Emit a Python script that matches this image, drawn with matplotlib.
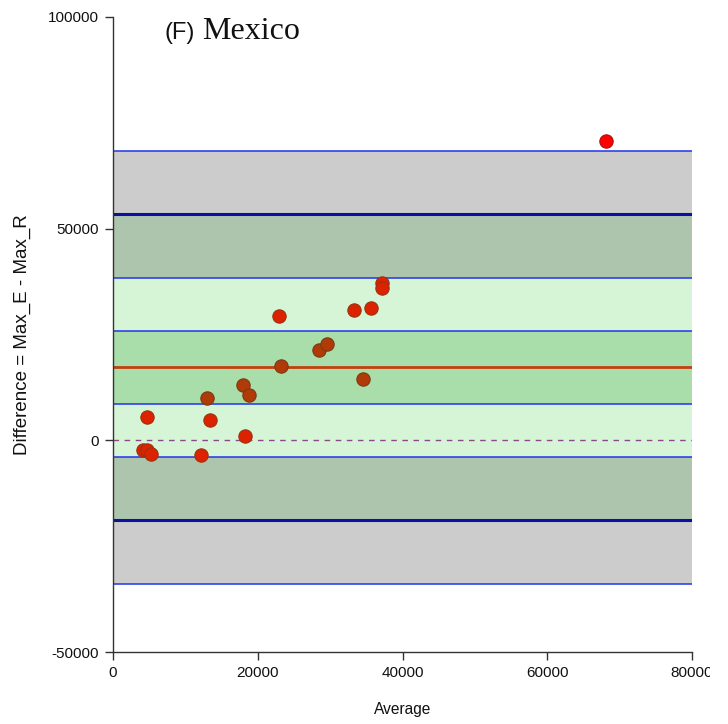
import matplotlib
matplotlib.use("Agg")
import matplotlib.pyplot as plt
from matplotlib.patches import Rectangle

# ---- data ----
avg_red = [22900, 33350, 35600, 37100, 37100, 4750, 13400, 18200, 4200, 4650, 5300, 12100]
diff_red = [29400, 30700, 31300, 37200, 35900, 5400, 4700, 1100, -2350, -2200, -3250, -3550]
avg_brown = [28450, 29600, 23150, 34500, 18000, 18750, 12950]
diff_brown = [21300, 22700, 17600, 14400, 13000, 10650, 9950]
avg_outlier = [68100]
diff_outlier = [70750]

mean_diff = 17250
mean_ci = [8500, 25800]
upper_loa = 53400
upper_ci = [38300, 68300]
lower_loa = -18900
lower_ci = [-34050, -4000]

xlim = [0, 80000]
ylim = [-50000, 100000]
xticks = [0, 20000, 40000, 60000, 80000]
yticks = [-50000, 0, 50000, 100000]

W, H = 728, 724
fig = plt.figure(figsize=(W / 100, H / 100), dpi=100)
ax = fig.add_axes([113 / W, (H - 652) / H, (692 - 113) / W, (652 - 17) / H])
ax.set_xlim(*xlim)
ax.set_ylim(*ylim)

grey = "#cccccc"
ggreen = "#adc5ad"
lgreen = "#d6f5d6"
mgreen = "#a9dda9"

ax.axhspan(upper_loa, upper_ci[1], color=grey, zorder=0, lw=0)
ax.axhspan(upper_ci[0], upper_loa, color=ggreen, zorder=0, lw=0)
ax.axhspan(mean_ci[1], upper_ci[0], color=lgreen, zorder=0, lw=0)
ax.axhspan(mean_ci[0], mean_ci[1], color=mgreen, zorder=0, lw=0)
ax.axhspan(lower_ci[1], mean_ci[0], color=lgreen, zorder=0, lw=0)
ax.axhspan(lower_loa, lower_ci[1], color=ggreen, zorder=0, lw=0)
ax.axhspan(lower_ci[0], lower_loa, color=grey, zorder=0, lw=0)

thin = dict(color="#2233ee", lw=1.1, zorder=1)
for v in [upper_ci[1], upper_ci[0], mean_ci[1], mean_ci[0], lower_ci[1], lower_ci[0]]:
    ax.axhline(v, **thin)
for v in [upper_loa, lower_loa]:
    ax.axhline(v, color="#0a10a0", lw=2.2, zorder=1)
ax.axhline(mean_diff, color="#c04010", lw=2.0, zorder=1)
ax.axhline(0, color="#8a4a8a", lw=1.0, ls=(0, (4, 4)), zorder=1)

ax.scatter(avg_brown, diff_brown, s=92, c="#b03a08", edgecolors="#7a3a10", linewidths=0.8, zorder=3)
ax.scatter(avg_red, diff_red, s=92, c="#dd2200", edgecolors="#993311", linewidths=0.8, zorder=3)
ax.scatter(avg_outlier, diff_outlier, s=92, c="#ff0000", edgecolors="#aa1111", linewidths=0.8, zorder=3)

for s in ["top", "right"]:
    ax.spines[s].set_visible(False)
for s in ["left", "bottom"]:
    ax.spines[s].set_color("#333333")
    ax.spines[s].set_linewidth(1.0)

ax.set_xticks(xticks)
ax.set_yticks(yticks)
ax.set_xticklabels([str(t) for t in xticks])
ax.set_yticklabels([str(t) for t in yticks])
ax.tick_params(direction="out", length=6, width=1.0, color="#333333",
               labelsize=11, labelcolor="#111111", pad=4)
for lab in ax.get_xticklabels() + ax.get_yticklabels():
    lab.set_family("Liberation Sans")

ax.set_xlabel("Average", fontsize=11.2, family="Liberation Sans", color="#111111", labelpad=16)
ax.set_ylabel("Difference = Max_E - Max_R", fontsize=13.5, family="Liberation Sans",
              color="#111111", labelpad=12)

fig.text(165 / W, 1 - 39 / H, "(F)", fontsize=17, family="Liberation Sans",
         va="baseline", ha="left", color="#111111")
fig.text(202 / W, 1 - 39 / H, "Mexico", fontsize=23, family="Liberation Serif",
         va="baseline", ha="left", color="#111111")

# the reference image cuts off the last x tick label at its right edge
fig.patches.append(Rectangle((710 / W, 0), 18 / W, 64 / H, transform=fig.transFigure,
                             facecolor="white", edgecolor="none", zorder=10))

fig.savefig("out.png", dpi=100)
